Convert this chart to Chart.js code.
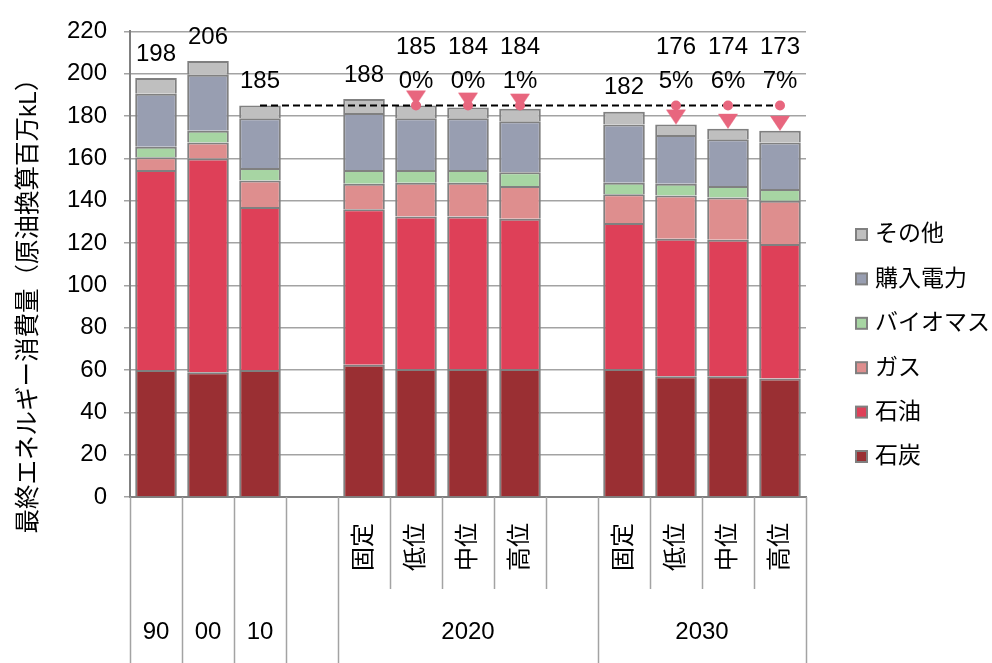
<!DOCTYPE html>
<html lang="ja">
<head>
<meta charset="UTF-8" />
<title>最終エネルギー消費量</title>
<script src="https://cdn.jsdelivr.net/npm/chart.js@4.4.1/dist/chart.umd.min.js"></script>
<style>
  html, body { margin: 0; padding: 0; background: #fff; }
</style>
</head>
<body>
<canvas id="myChart" width="992" height="663"></canvas>
<script>
// categories (lower row = groups, upper row = scenario)
const categories = ['90', '00', '10', '', '固定', '低位', '中位', '高位', '', '固定', '低位', '中位', '高位'];
const groupLabels = ['90', '00', '10', '', '2020', '2030'];
const groupSpans = [1, 1, 1, 1, 5, 4];

// final energy consumption, million kL crude oil equivalent
const coal  = [60, 59, 60, null, 62.5, 60.5, 60.5, 60.5, null, 60.5, 57, 57, 56];
const oil   = [94.5, 101, 77, null, 73.5, 72, 72, 71, null, 69, 65, 64.5, 63.5];
const gas   = [6, 7.5, 12.5, null, 12, 16, 16, 15.5, null, 13.5, 20.5, 20, 20.5];
const bio   = [5, 5.5, 6, null, 6.5, 6, 6, 6.5, null, 5.5, 5.5, 5.5, 5.5];
const power = [25, 26.5, 23.5, null, 27, 24.5, 24.5, 24, null, 27.5, 23, 22, 22];
const other = [7.5, 6.5, 6, null, 6.5, 6, 5, 6, null, 6, 5, 5, 5.5];

const totalLabels = ['198', '206', '185', '', '188', '185', '184', '184', '', '182', '176', '174', '173'];
const shareLabels = ['', '', '', '', '', '0%', '0%', '1%', '', '', '5%', '6%', '7%'];

// 2010 level and the reduction arrows
const baseline = 185;
const refLine   = [null, null, 185, 185, 185, 185, 185, 185, 185, 185, 185, 185, 185];
const arrowFrom = [null, null, null, null, null, 185, 185, 185, null, null, 185, 185, 185];
const arrowTo   = [null, null, null, null, null, 185, 184, 183.5, null, null, 176, 174, 173];

const fontFamily = "'Liberation Sans', Arial, 'Noto Sans CJK JP', sans-serif";
const gridColor = '#a3a3a3';
const edgeColor = '#808080';
const markColor = '#e8667e';

const series = [
    { label: '石炭', data: coal, color: '#9a2f33' },
    { label: '石油', data: oil, color: '#de4058' },
    { label: 'ガス', data: gas, color: '#de8e8e' },
    { label: 'バイオマス', data: bio, color: '#a7d5a3' },
    { label: '購入電力', data: power, color: '#989eb1' },
    { label: 'その他', data: other, color: '#bfbfbf' }
];

// arrow head with its tip at the centre of the image
function makeArrowHead(color) {
    const c = document.createElement('canvas');
    c.width = 20;
    c.height = 32;
    const g = c.getContext('2d');
    g.fillStyle = color;
    g.beginPath();
    g.moveTo(0, 1);
    g.lineTo(20, 1);
    g.lineTo(10, 16);
    g.closePath();
    g.fill();
    return c;
}

const decor = {
    id: 'decor',
    afterDatasetsDraw(chart) {
        const ctx = chart.ctx;
        const y = chart.scales.y;
        const x = chart.scales.x;
        ctx.save();
        ctx.fillStyle = '#000';
        ctx.font = '24px ' + fontFamily;
        ctx.textAlign = 'center';
        ctx.textBaseline = 'middle';
        categories.forEach((c, i) => {
            if (!totalLabels[i]) return;
            const total = series.reduce((a, s) => a + (s.data[i] || 0), 0);
            let anchor = y.getPixelForValue(total);
            const lines = [totalLabels[i]];
            if (shareLabels[i]) {
                anchor = Math.min(anchor, y.getPixelForValue(baseline));
                lines.push(shareLabels[i]);
            }
            lines.reverse().forEach((t, k) => {
                ctx.fillText(t, x.getPixelForValue(i), anchor - 24 - 34 * k);
            });
        });
        ctx.restore();
    },
    afterDraw(chart) {
        const ctx = chart.ctx;
        const x = chart.scales.x;
        const area = chart.chartArea;
        const step = (area.right - area.left) / categories.length;
        const top = area.bottom;
        const bottom = chart.height;
        const midRow = top + 92;

        ctx.save();
        // category table below the axis
        const fullEdges = [0];
        groupSpans.reduce((a, n) => { fullEdges.push(a + n); return a + n; }, 0);
        ctx.strokeStyle = gridColor;
        ctx.lineWidth = 1.5;
        for (let b = 0; b <= categories.length; b++) {
            const px = Math.round(area.left + b * step) + 0.5;
            ctx.beginPath();
            ctx.moveTo(px, top);
            ctx.lineTo(px, fullEdges.includes(b) ? bottom : midRow);
            ctx.stroke();
        }

        ctx.fillStyle = '#000';
        ctx.font = '24px ' + fontFamily;
        categories.forEach((c, i) => {
            if (!c || i < 4) return;
            ctx.save();
            ctx.translate(x.getPixelForValue(i), top + 26);
            ctx.rotate(-Math.PI / 2);
            ctx.textAlign = 'right';
            ctx.textBaseline = 'middle';
            ctx.fillText(c, 0, 0);
            ctx.restore();
        });

        ctx.textAlign = 'center';
        ctx.textBaseline = 'middle';
        let start = 0;
        groupLabels.forEach((g, k) => {
            const cx = area.left + (start + groupSpans[k] / 2) * step;
            if (g) ctx.fillText(g, cx, top + 135);
            start += groupSpans[k];
        });

        // y axis title
        ctx.save();
        ctx.translate(29, 300);
        ctx.rotate(-Math.PI / 2);
        ctx.font = '24.5px ' + fontFamily;
        ctx.fillText('最終エネルギー消費量（原油換算百万kL）', 0, 0);
        ctx.restore();

        // legend
        ctx.font = '23px ' + fontFamily;
        ctx.textAlign = 'left';
        const lx = area.right + 49;
        series.slice().reverse().forEach((s, k) => {
            const ly = 235 + k * 44.4;
            ctx.fillStyle = edgeColor;
            ctx.fillRect(lx, ly - 7, 13, 13);
            ctx.fillStyle = s.color;
            ctx.fillRect(lx + 2, ly - 5, 9, 9);
            ctx.fillStyle = '#000';
            ctx.fillText(s.label, lx + 20, ly);
        });
        ctx.restore();
    }
};

const ctx = document.getElementById('myChart').getContext('2d');
const myChart = new Chart(ctx, {
    type: 'bar',
    data: {
        labels: categories,
        datasets: [
            ...series.map(s => ({
                type: 'bar',
                label: s.label,
                data: s.data,
                backgroundColor: s.color,
                borderColor: edgeColor,
                borderWidth: 2,
                stack: 'energy',
                order: 10,
                barPercentage: 0.8,
                categoryPercentage: 1
            })),
            {
                type: 'line',
                label: '2010年水準',
                data: refLine,
                borderColor: '#000',
                borderWidth: 2,
                borderDash: [7, 4],
                pointRadius: 0,
                order: 3
            },
            {
                type: 'line',
                label: '基準',
                data: arrowFrom,
                showLine: false,
                pointRadius: 5,
                pointBackgroundColor: markColor,
                pointBorderWidth: 0,
                order: 2
            },
            {
                type: 'line',
                label: '削減',
                data: arrowTo,
                showLine: false,
                pointRadius: 10,
                pointStyle: makeArrowHead(markColor),
                order: 1
            }
        ]
    },
    options: {
        responsive: false,
        animation: false,
        layout: { padding: { top: 20, right: 186, bottom: 0, left: 0 } },
        plugins: {
            legend: { display: false },
            tooltip: { enabled: false }
        },
        scales: {
            x: {
                grid: { display: false },
                border: { display: true, color: edgeColor, width: 2 },
                ticks: { display: false },
                afterFit: s => { s.height = 166; }
            },
            y: {
                min: 0,
                max: 220,
                ticks: {
                    stepSize: 20,
                    padding: 17,
                    color: '#000',
                    font: { family: fontFamily, size: 24 }
                },
                grid: { color: gridColor, lineWidth: 1.5, tickLength: 6, tickColor: gridColor },
                border: { display: true, color: edgeColor, width: 2 },
                afterFit: s => { s.width = 130; }
            }
        }
    },
    plugins: [decor]
});
</script>
</body>
</html>
